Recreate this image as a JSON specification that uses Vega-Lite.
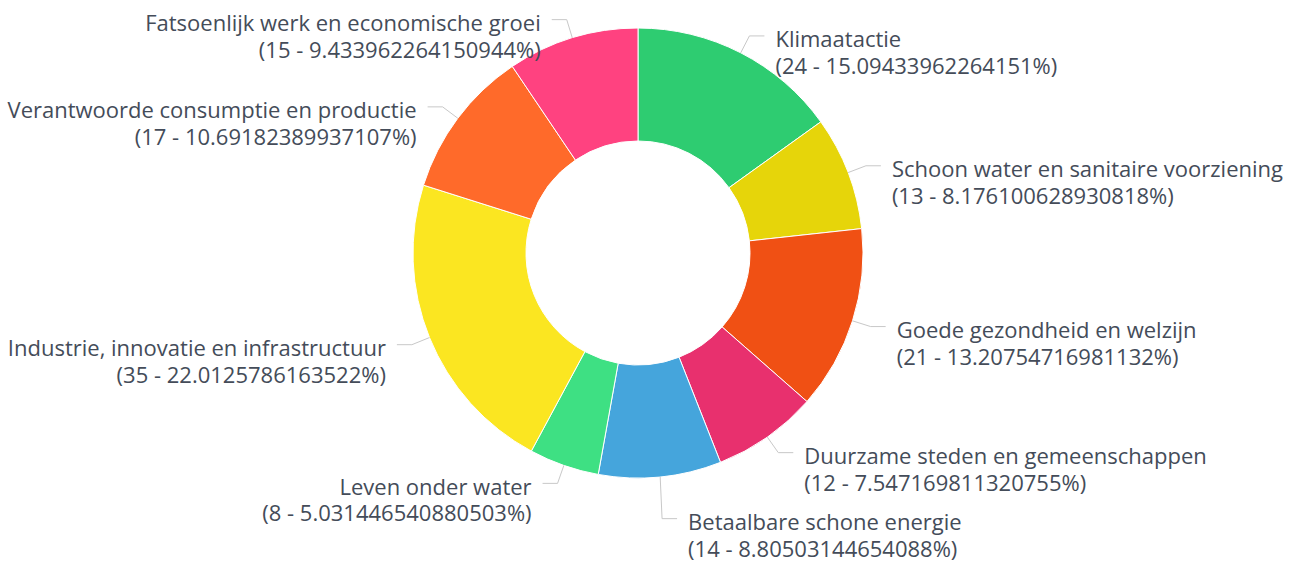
{
  "$schema": "https://vega.github.io/schema/vega-lite/v6.json",
  "width": 1276,
  "height": 506,
  "padding": {"left": 0, "top": 0, "right": 21, "bottom": 56},
  "autosize": {"type": "none"},
  "background": "white",
  "config": {"view": {"stroke": null}},
  "data": {
    "values": [
      {"name": "Klimaatactie", "value": 24, "pct": "15.09433962264151"},
      {"name": "Schoon water en sanitaire voorziening", "value": 13, "pct": "8.176100628930818"},
      {"name": "Goede gezondheid en welzijn", "value": 21, "pct": "13.20754716981132"},
      {"name": "Duurzame steden en gemeenschappen", "value": 12, "pct": "7.547169811320755"},
      {"name": "Betaalbare schone energie", "value": 14, "pct": "8.80503144654088"},
      {"name": "Leven onder water", "value": 8, "pct": "5.031446540880503"},
      {"name": "Industrie, innovatie en infrastructuur", "value": 35, "pct": "22.0125786163522"},
      {"name": "Verantwoorde consumptie en productie", "value": 17, "pct": "10.69182389937107"},
      {"name": "Fatsoenlijk werk en economische groei", "value": 15, "pct": "9.433962264150944"}
    ]
  },
  "transform": [
    {"joinaggregate": [{"op": "sum", "field": "value", "as": "total"}]},
    {"window": [{"op": "sum", "field": "value", "as": "cum"}], "frame": [null, 0]},
    {"calculate": "(datum.cum - datum.value / 2) / datum.total * 2 * PI", "as": "a"},
    {"calculate": "sin(datum.a) >= 0 ? 1 : -1", "as": "side"},
    {"calculate": "225 * sin(datum.a)", "as": "x0"},
    {"calculate": "225 * cos(datum.a)", "as": "y0"},
    {"calculate": "244 * sin(datum.a)", "as": "x1"},
    {"calculate": "244 * cos(datum.a)", "as": "y1"},
    {"window": [{"op": "lag", "field": "y1", "as": "py"}, {"op": "lag", "field": "side", "as": "ps"}], "frame": [null, 0]},
    {"calculate": "datum.side == 1 && datum.ps == 1 ? min(datum.y1, datum.py - 66) : (datum.side == -1 && datum.ps == -1 ? max(datum.y1, datum.py + 66) : datum.y1)", "as": "ty"},
    {"calculate": "datum.x1 + datum.side * 15", "as": "x2"},
    {"calculate": "datum.x1 + datum.side * 26", "as": "tx"},
    {"calculate": "[datum.name, '(' + datum.value + ' - ' + datum.pct + '%)']", "as": "label"}
  ],
  "layer": [
    {
      "mark": {"type": "arc", "outerRadius": 225, "innerRadius": 112, "stroke": "white", "strokeWidth": 1},
      "encoding": {
        "theta": {"field": "value", "type": "quantitative", "stack": true},
        "order": {"field": "cum", "type": "quantitative"},
        "color": {
          "field": "name",
          "type": "nominal",
          "legend": null,
          "scale": {
            "domain": ["Klimaatactie", "Schoon water en sanitaire voorziening", "Goede gezondheid en welzijn", "Duurzame steden en gemeenschappen", "Betaalbare schone energie", "Leven onder water", "Industrie, innovatie en infrastructuur", "Verantwoorde consumptie en productie", "Fatsoenlijk werk en economische groei"],
            "range": ["#2ECC71", "#E6D50A", "#F05014", "#E8306E", "#45A5DC", "#3EE083", "#FBE621", "#FF6A2A", "#FF4280"]
          }
        }
      }
    },
    {
      "mark": {"type": "rule", "color": "#c8c8c8", "strokeWidth": 1},
      "encoding": {
        "x": {"field": "x0", "type": "quantitative", "scale": {"domain": [-638, 638], "nice": false, "zero": false}, "axis": null},
        "y": {"field": "y0", "type": "quantitative", "scale": {"domain": [-253, 253], "nice": false, "zero": false}, "axis": null},
        "x2": {"field": "x1"},
        "y2": {"field": "ty"}
      }
    },
    {
      "mark": {"type": "rule", "color": "#c8c8c8", "strokeWidth": 1},
      "encoding": {
        "x": {"field": "x1", "type": "quantitative", "axis": null},
        "y": {"field": "ty", "type": "quantitative", "axis": null},
        "x2": {"field": "x2"}
      }
    },
    {
      "transform": [{"filter": "datum.side == 1"}],
      "mark": {"type": "text", "align": "left", "baseline": "alphabetic", "dy": 11.5, "font": "Open Sans", "fontSize": 22, "lineHeight": 26.5, "color": "#444c59"},
      "encoding": {
        "x": {"field": "tx", "type": "quantitative", "axis": null},
        "y": {"field": "ty", "type": "quantitative", "axis": null},
        "text": {"field": "label"}
      }
    },
    {
      "transform": [{"filter": "datum.side == -1"}],
      "mark": {"type": "text", "align": "right", "baseline": "alphabetic", "dy": 11.5, "font": "Open Sans", "fontSize": 22, "lineHeight": 26.5, "color": "#444c59"},
      "encoding": {
        "x": {"field": "tx", "type": "quantitative", "axis": null},
        "y": {"field": "ty", "type": "quantitative", "axis": null},
        "text": {"field": "label"}
      }
    }
  ]
}
